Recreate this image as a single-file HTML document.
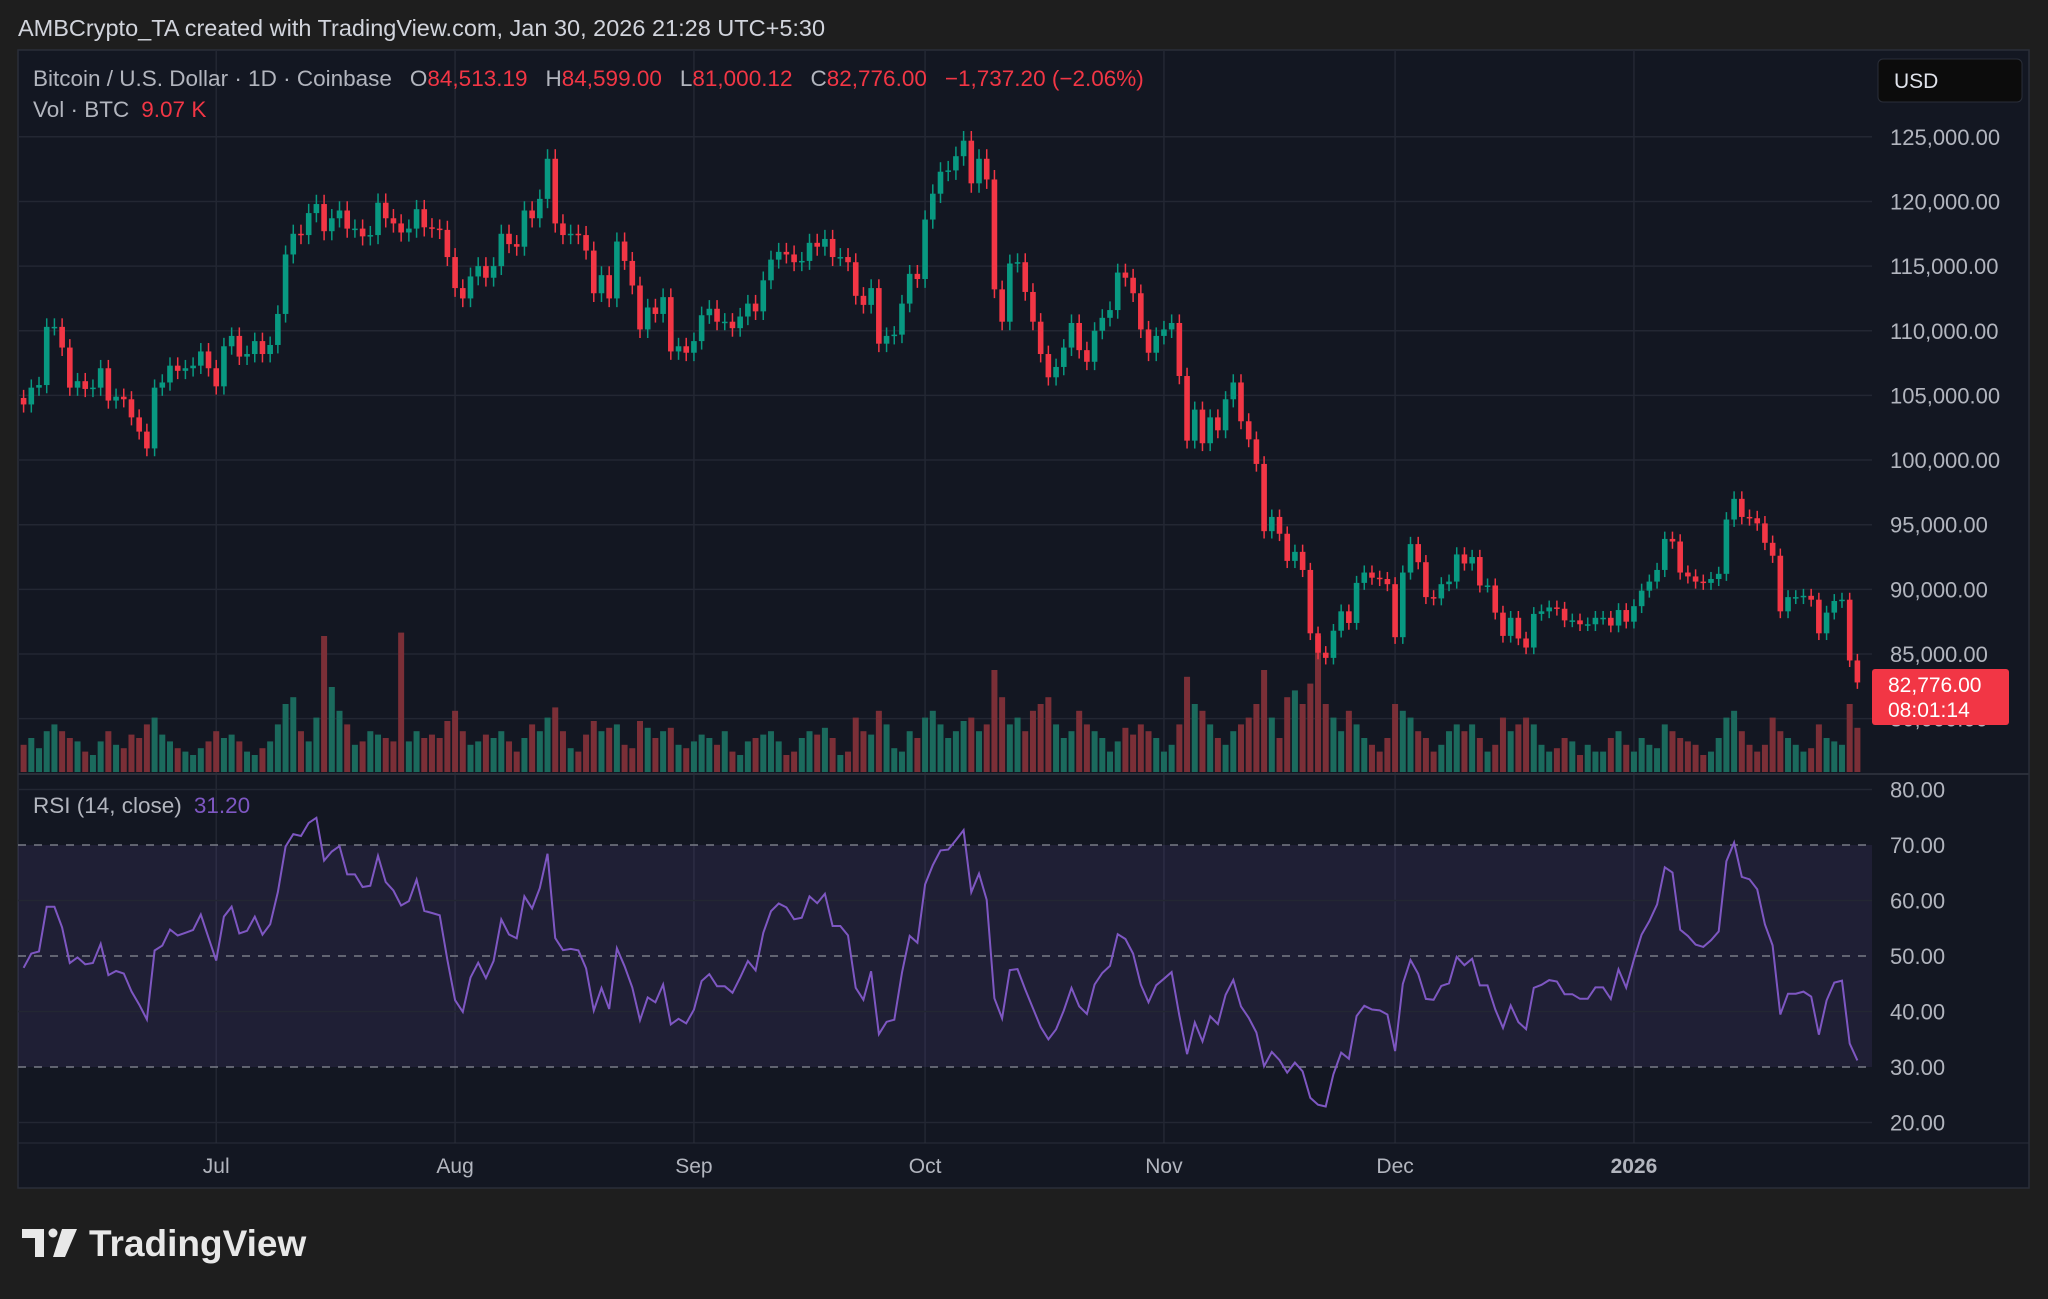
<!DOCTYPE html>
<html><head><meta charset="utf-8"><style>
html,body{margin:0;padding:0;background:#1e1e1e;}
svg{display:block;font-family:"Liberation Sans",sans-serif;}
</style></head><body>
<svg id="c" width="2048" height="1299" viewBox="0 0 2048 1299" xmlns="http://www.w3.org/2000/svg">
<rect x="0" y="0" width="2048" height="1299" fill="#1e1e1e"/>
<text x="18" y="36" fill="#d1d4dc" font-size="23.5">AMBCrypto_TA created with TradingView.com, Jan 30, 2026 21:28 UTC+5:30</text>
<rect x="18" y="50" width="2011" height="1138" fill="#131722" stroke="#2a2e39" stroke-width="1.5"/>
<g id="grid"></g>
<g id="vol"></g>
<g id="candles"></g>
<g id="rsi"></g>
<g id="axes"></g>
<line x1="18" y1="774" x2="2029" y2="774" stroke="#2a2e39" stroke-width="2"/>
<line x1="18" y1="1143" x2="2029" y2="1143" stroke="#2a2e39" stroke-width="1"/>
<text x="33" y="86" font-size="22.5" fill="#b2b5be">Bitcoin / U.S. Dollar · 1D · Coinbase<tspan dx="18" fill="#b2b5be">O</tspan><tspan fill="#f23645">84,513.19</tspan><tspan dx="18" fill="#b2b5be">H</tspan><tspan fill="#f23645">84,599.00</tspan><tspan dx="18" fill="#b2b5be">L</tspan><tspan fill="#f23645">81,000.12</tspan><tspan dx="18" fill="#b2b5be">C</tspan><tspan fill="#f23645">82,776.00</tspan><tspan dx="18" fill="#f23645">−1,737.20 (−2.06%)</tspan></text>
<text x="33" y="117" font-size="22.5" fill="#b2b5be">Vol · BTC<tspan dx="12" fill="#f23645">9.07 K</tspan></text>
<text x="33" y="813" font-size="22.5" fill="#b2b5be">RSI (14, close)<tspan dx="12" fill="#7e57c2">31.20</tspan></text>
<rect x="1878" y="59" width="144" height="43" rx="5" fill="#0c0c0c" stroke="#2a2e39"/>
<text x="1894" y="88" font-size="21" fill="#e0e3eb">USD</text>
<g>
<path d="M22 1229 H44 V1257 H35 V1238 H22 Z" fill="#e8e8e8"/>
<circle cx="53" cy="1233" r="4.5" fill="#e8e8e8"/>
<path d="M62 1229 H77 L65 1257 H53 Z" fill="#e8e8e8"/>
<text x="89" y="1256" font-size="37" font-weight="bold" fill="#e8e8e8">TradingView</text>
</g>
</svg>
<script>
const closes=[104.3,105.6,105.8,110.3,110.3,108.7,105.6,106.1,105.5,105.6,107.1,104.6,104.9,104.7,103.3,102.2,100.9,105.6,106.0,107.3,106.9,107.1,107.3,108.4,107.1,
105.7,108.8,109.6,108.0,108.2,109.2,108.2,108.9,111.3,115.9,117.5,117.4,119.1,119.8,117.7,118.7,119.3,117.9,117.9,117.3,117.4,119.9,118.7,118.3,117.6,117.9,119.4,118.0,117.9,117.8,115.7,
113.3,112.5,114.2,115.0,114.1,115.0,117.5,116.7,116.5,119.3,118.7,120.2,123.3,118.3,117.4,117.5,117.4,116.2,112.9,114.3,112.5,116.9,115.4,113.5,110.1,111.8,111.3,112.6,108.4,108.8,108.3,
109.2,111.2,111.7,110.7,110.7,110.2,111.1,112.1,111.5,113.9,115.5,116.1,115.9,115.3,115.4,116.8,116.5,117.1,115.7,115.7,115.3,112.7,112.0,113.3,109.0,109.6,109.7,112.1,114.4,114.0,
118.6,120.6,122.3,122.4,123.5,124.7,121.4,123.3,121.7,113.2,110.7,115.2,115.3,113.0,110.7,108.2,106.4,107.2,108.7,110.6,108.5,107.6,110.0,111.0,111.6,114.5,114.1,112.9,110.1,108.3,109.6,
110.1,110.6,106.5,101.5,103.9,101.3,103.3,102.3,104.7,106.0,103.0,101.6,99.7,94.5,95.6,94.3,92.2,92.9,91.5,86.6,85.1,84.7,86.8,88.3,87.4,90.5,91.3,90.9,90.8,90.4,
86.3,91.3,93.5,92.1,89.4,89.3,90.4,90.6,92.7,92.0,92.5,90.3,90.3,88.2,86.4,87.8,86.2,85.5,88.1,88.3,88.6,88.5,87.6,87.6,87.3,87.3,87.8,87.8,87.2,88.4,87.5,
88.7,89.9,90.6,91.5,93.9,93.7,91.3,91.0,90.6,90.5,90.8,91.2,95.4,97.0,95.6,95.5,95.1,93.6,92.6,88.3,89.4,89.4,89.5,89.2,86.6,88.2,89.1,89.2,84.5,82.8];
const firstOpen=104.8;
const volumes=[8,10,7,12,14,12,10,9,6,5,9,12,8,7,11,10,14,16,11,9,7,6,5,7,9,
12,10,11,9,6,5,7,9,14,20,22,12,9,16,40,25,18,14,8,9,12,11,10,9,41,9,12,10,11,10,15,
18,12,8,9,11,10,12,9,6,10,14,12,16,19,12,7,6,11,15,12,13,14,8,7,15,13,10,12,13,8,7,
9,11,10,8,12,6,5,9,10,11,12,9,5,6,10,12,11,13,10,5,6,16,12,11,18,14,7,6,12,10,
16,18,14,10,12,15,16,12,14,30,22,14,16,12,18,20,22,14,10,12,18,14,12,10,6,9,13,11,14,12,10,
6,8,14,28,20,18,14,10,8,12,14,16,20,30,16,10,22,24,20,26,40,20,16,12,18,14,10,8,6,10,
20,18,16,12,10,6,8,12,14,12,14,10,6,8,16,12,14,16,14,8,6,7,10,9,5,8,6,6,10,12,8,
6,10,8,7,14,12,10,9,8,5,6,10,16,18,12,8,6,8,16,12,10,8,6,7,14,10,9,8,20,13];
const rsiSeedGain=1.0, rsiSeedLoss=1.05;
const priceTicks=[80000,85000,90000,95000,100000,105000,110000,115000,120000,125000];
const rsiTicks=[20,30,40,50,60,70,80];
const monthLabels=["Jul","Aug","Sep","Oct","Nov","Dec","2026"];
const monthIdx=[25,56,87,117,148,178,209];

const NS="http://www.w3.org/2000/svg";
function mk(p,t,a){const e=document.createElementNS(NS,t);for(const k in a)e.setAttribute(k,a[k]);p.appendChild(e);return e;}
const X=i=>23.6+i*7.705;
const PY=v=>654-(v-85)*12.93;
const RY=v=>1067-(v-30)*5.55;
const VY=v=>772-v*3.4;
const G=document.getElementById('grid'),V=document.getElementById('vol'),C=document.getElementById('candles'),R=document.getElementById('rsi'),A=document.getElementById('axes');

monthIdx.forEach((d,k)=>{
  const l=mk(G,'line',{x1:X(d),y1:50,x2:X(d),y2:1143,stroke:'#232733','stroke-width':1.5});
  
  
  const t=mk(A,'text',{x:X(d),y:1173,'text-anchor':'middle','font-size':21,fill:'#b2b5be','font-weight':monthLabels[k]==='2026'?'bold':'normal'});
  t.textContent=monthLabels[k];
  
  
});
priceTicks.forEach(p=>{
  const y=PY(p/1000);
  const l=mk(G,'line',{x1:18,y1:y,x2:1872,y2:y,stroke:'#232733','stroke-width':1.5});
  
  
  const t=mk(A,'text',{x:1890,y:y+8,'font-size':22,fill:'#b2b5be'});
  t.textContent=p.toLocaleString('en-US')+'.00';
  
  
});
const band=mk(R,'rect',{x:18,y:RY(70),width:1854,height:RY(30)-RY(70),fill:'rgba(126,87,194,0.12)'});


rsiTicks.forEach(v=>{
  const y=RY(v);const dashed=(v===30||v===50||v===70);
  const l=mk(R,'line',{x1:18,y1:y,x2:1872,y2:y,stroke:dashed?'#787b86':'#232733','stroke-width':1.5,'stroke-dasharray':dashed?'8 8':'none'});
  
  
  const t=mk(A,'text',{x:1890,y:y+8,'font-size':22,fill:'#b2b5be'});
  t.textContent=v.toFixed(2);
  
  
});
closes.forEach((c,i)=>{
  const o=i===0?firstOpen:closes[i-1];
  const up=c>=o;
  const hi=Math.max(o,c)*1.006,lo=Math.min(o,c)*0.994;
  const x=X(i);
  const vb=mk(V,'rect',{x:x-3,y:VY(volumes[i]),width:6,height:volumes[i]*3.4,fill:up?'#1b6a5d':'#7b2f37'});
  
  
  const col=up?'#089981':'#f23645';
  const w=mk(C,'line',{x1:x,y1:PY(hi),x2:x,y2:PY(lo),stroke:col,'stroke-width':1.5});
  
  
  const b=mk(C,'rect',{x:x-2.8,y:PY(Math.max(o,c)),width:5.6,height:Math.max(1.5,Math.abs(PY(o)-PY(c))),fill:col});
  
  
});
// RSI with Wilder smoothing seeded from pre-window averages
const rsi=[];let ag=rsiSeedGain,al=rsiSeedLoss;
for(let i=0;i<closes.length;i++){
  const prev=i===0?firstOpen:closes[i-1];
  const d=closes[i]-prev;const g=Math.max(d,0),l=Math.max(-d,0);
  ag=(ag*13+g)/14;al=(al*13+l)/14;
  rsi[i]=al===0?100:100-100/(1+ag/al);
}
let pts=[];for(let i=0;i<closes.length;i++)pts.push(X(i).toFixed(1)+','+RY(rsi[i]).toFixed(1));
const pl=mk(R,'polyline',{points:pts.join(' '),fill:'none',stroke:'#7e57c2','stroke-width':2});


const tg=mk(A,'rect',{x:1872,y:669,width:137,height:56,rx:3,fill:'#f23645'});


const t1=mk(A,'text',{x:1888,y:692,'font-size':21,fill:'#fff'});t1.textContent='82,776.00';


const t2=mk(A,'text',{x:1888,y:717,'font-size':21,fill:'#fff'});t2.textContent='08:01:14';


</script>
</body></html>
